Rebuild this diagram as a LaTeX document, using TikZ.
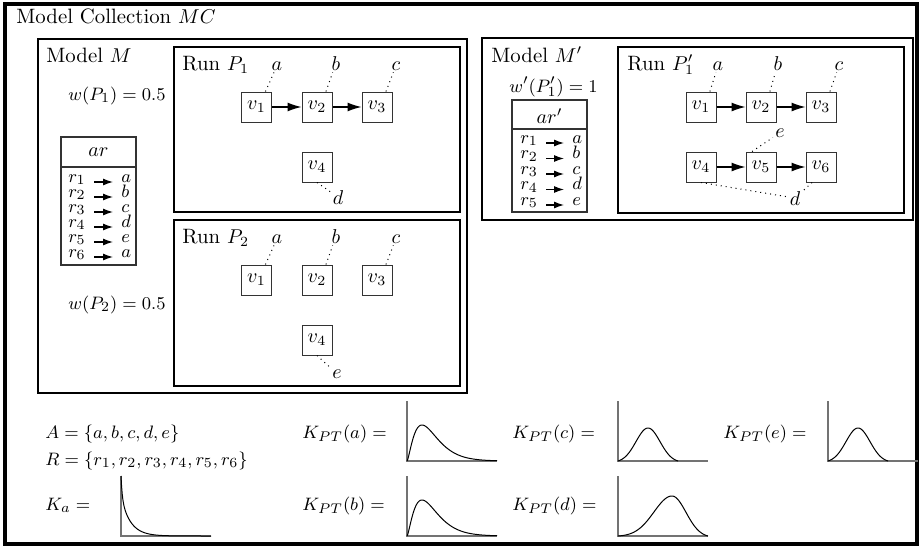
\documentclass[tikz,border=0pt]{standalone}
\usepackage{amsmath}
\usetikzlibrary{arrows.meta}

\begin{document}
\begin{tikzpicture}[x=0.5pt, y=-0.5pt,
  txt/.style={inner sep=0pt, anchor=base west, font=\fontsize{10.4}{12.5}\selectfont},
  mtxt/.style={inner sep=0pt, anchor=base west, font=\fontsize{9.5}{11.5}\selectfont},
  vnode/.style={draw=black!80, line width=0.5pt, minimum size=15pt, inner sep=0pt},
  lbl/.style={inner sep=1pt, anchor=base},
  rowtxt/.style={inner sep=0pt, anchor=base west, font=\fontsize{9.5}{11.5}\selectfont},
  flow/.style={-{Latex[length=7pt,width=4.5pt]}, line width=0.6pt},
  maparrow/.style={-{Latex[length=5pt,width=3.5pt]}, line width=0.6pt, shorten <=4pt, shorten >=4pt},
  link/.style={dotted, line width=0.5pt},
  runbox/.style={draw, line width=0.9pt},
  modelbox/.style={draw, line width=1.2pt},
  tablebox/.style={draw=black!80, line width=0.6pt},
  axis/.style={draw=black!55, line width=0.7pt},
  curve/.style={line width=0.5pt}]

  \useasboundingbox (0,0) rectangle (920,546);

  % Model collection frame
  \draw[line width=2pt] (5,4) rectangle (917,544);
  \node[txt] (mctitle) at (16,24) {Model Collection $MC$};

  % Model M
  \draw[modelbox] (38,39) rectangle (467,393);
  \node[txt] (mtitle) at (46,62) {Model $M$};
  \node[mtxt, anchor=base east] (w1) at (166,100) {$w(P_1) = 0.5$};
  \node[mtxt, anchor=base east] (w2) at (166,309) {$w(P_2) = 0.5$};

  % Table ar
  \draw[tablebox] (61,137) rectangle (136,265);
  \draw[tablebox] (61,167) -- (136,167);
  \node (arhead) at (98.5,152) {$ar$};
  \foreach \t [count=\i] in {a,b,c,d,e,a} {
    \node[rowtxt] (r\i) at (68,{167+15*\i}) {$r_{\i}$};
    \node[rowtxt] (t\i) at (121,{167+15*\i}) {$\t$};
    \draw[maparrow] (r\i.base east) -- (r\i.base east -| t\i.west);
  }

  % Run P1
  \draw[runbox] (174,47) rectangle (460,212);
  \node[txt] (p1title) at (182,70) {Run $P_1$};
  \node[vnode] (p1v1) at (256.5,107) {$v_1$};
  \node[vnode] (p1v2) at (317,107) {$v_2$};
  \node[vnode] (p1v3) at (377,107) {$v_3$};
  \node[vnode] (p1v4) at (317,167) {$v_4$};
  \node[lbl] (p1a) at (277,70) {$a$};
  \node[lbl] (p1b) at (336,70) {$b$};
  \node[lbl] (p1c) at (396,70) {$c$};
  \node[lbl] (p1d) at (338,204) {$d$};
  \draw[flow] (p1v1) -- (p1v2);
  \draw[flow] (p1v2) -- (p1v3);
  \draw[link] (p1v1.60) -- (p1a);
  \draw[link] (p1v2.60) -- (p1b);
  \draw[link] (p1v3.60) -- (p1c);
  \draw[link] (p1v4.south) -- (p1d);

  % Run P2
  \draw[runbox] (174,220) rectangle (460,386);
  \node[txt] (p2title) at (182,243) {Run $P_2$};
  \node[vnode] (p2v1) at (256.5,280) {$v_1$};
  \node[vnode] (p2v2) at (317,280) {$v_2$};
  \node[vnode] (p2v3) at (377,280) {$v_3$};
  \node[vnode] (p2v4) at (317,340) {$v_4$};
  \node[lbl] (p2a) at (277,243) {$a$};
  \node[lbl] (p2b) at (336,243) {$b$};
  \node[lbl] (p2c) at (396,243) {$c$};
  \node[lbl] (p2e) at (337,378) {$e$};
  \draw[link] (p2v1.60) -- (p2a);
  \draw[link] (p2v2.60) -- (p2b);
  \draw[link] (p2v3.60) -- (p2c);
  \draw[link] (p2v4.south) -- (p2e);

  % Model M'
  \draw[modelbox] (482,38) rectangle (913,220);
  \node[txt] (mptitle) at (491,62) {Model $M'$};
  \node[mtxt, anchor=base] (wp1) at (553.5,92) {$w'(P_1') = 1$};

  % Table ar'
  \draw[tablebox] (512,100) rectangle (587,212);
  \draw[tablebox] (512,129) -- (587,129);
  \node (arphead) at (549.5,116) {$ar'$};
  \foreach \t [count=\i] in {a,b,c,d,e} {
    \node[rowtxt] (rp\i) at (520,{127.5+15.5*\i}) {$r_{\i}$};
    \node[rowtxt] (tp\i) at (572,{127.5+15.5*\i}) {$\t$};
    \draw[maparrow] (rp\i.base east) -- (rp\i.base east -| tp\i.west);
  }

  % Run P1'
  \draw[runbox] (618,47) rectangle (904,213);
  \node[txt] (pptitle) at (627,70) {Run $P_1'$};
  \node[vnode] (ppv1) at (701,107) {$v_1$};
  \node[vnode] (ppv2) at (761,107) {$v_2$};
  \node[vnode] (ppv3) at (821,107) {$v_3$};
  \node[vnode] (ppv4) at (701,167) {$v_4$};
  \node[vnode] (ppv5) at (761,167) {$v_5$};
  \node[vnode] (ppv6) at (821,167) {$v_6$};
  \node[lbl] (ppa) at (718,70) {$a$};
  \node[lbl] (ppb) at (778,70) {$b$};
  \node[lbl] (ppc) at (839,70) {$c$};
  \node[lbl] (ppe) at (780,137) {$e$};
  \node[lbl] (ppd) at (795,205) {$d$};
  \draw[flow] (ppv1) -- (ppv2);
  \draw[flow] (ppv2) -- (ppv3);
  \draw[flow] (ppv4) -- (ppv5);
  \draw[flow] (ppv5) -- (ppv6);
  \draw[link] (ppv1.60) -- (ppa);
  \draw[link] (ppv2.60) -- (ppb);
  \draw[link] (ppv3.60) -- (ppc);
  \draw[link] (ppv5.120) -- (ppe);
  \draw[link] (ppv4.south) -- (ppd);
  \draw[link] (ppv6.240) -- (ppd);

  % Sets and kernels
  \node[mtxt] (aset) at (45,438) {$A = \{a,b,c,d,e\}$};
  \node[mtxt] (rset) at (45,465) {$R = \{r_1,r_2,r_3,r_4,r_5,r_6\}$};
  \node[mtxt] (kalbl) at (45,510) {$K_a =$};
  \node[mtxt] (kpta) at (302,438) {$K_{PT}(a) =$};
  \node[mtxt] (kptb) at (302,510) {$K_{PT}(b) =$};
  \node[mtxt] (kptc) at (512,438) {$K_{PT}(c) =$};
  \node[mtxt] (kptd) at (512,510) {$K_{PT}(d) =$};
  \node[mtxt] (kpte) at (723,438) {$K_{PT}(e) =$};

  % Plot axes
  \foreach \ox/\oy in {121/536, 407/461, 407/536, 618/461, 618/536, 828/461}
    \draw[axis] ({\ox},{\oy-60}) -- ({\ox},{\oy}) -- ({\ox+90},{\oy});

  % Curves
  \draw[curve, shift={(121,536)}] plot[domain=0:90, samples=150] (\x, {-39*exp(-\x/9.5)-21*exp(-\x/1.2)});
  \foreach \oy in {461, 536}
    \draw[curve, shift={(407,\oy)}] plot[domain=0.05:90, samples=120] (\x, {-36*(\x/15)^1.5*exp(1.5*(1-\x/15))});
  \foreach \ox in {618, 828}
    \draw[curve, shift={(\ox,461)}] plot[domain=0:60, samples=80] (\x, {-33*(exp(-(\x-30)^2/288)-0.044)/0.956});
  \draw[curve, shift={(618,536)}] plot[domain=0:90, samples=120]
    (\x, {\x<54 ? -40*(exp(-(\x-54)^2/648)-0.011)/0.989 : -40*(exp(-(\x-54)^2/392)-0.037)/0.963});
\end{tikzpicture}
\end{document}
